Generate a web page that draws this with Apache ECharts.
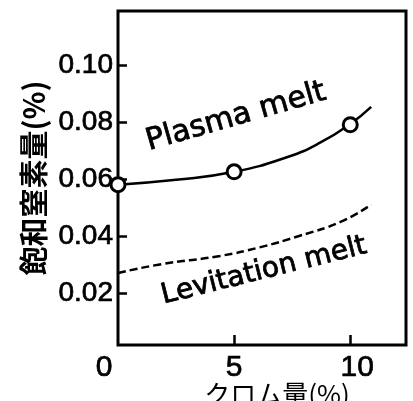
<!DOCTYPE html>
<html lang="ja">
<head>
<meta charset="utf-8" />
<script src="https://cdn.jsdelivr.net/npm/echarts@6/dist/echarts.min.js"></script>
<style>html,body{margin:0;padding:0;background:#fff}</style>
</head>
<body>
<div id="view1" style="width:413px;height:401px"></div>
<script>
    // 測定点 (○) と曲線 : クロム量(%) vs 飽和窒素量(%)
    var plasmaX = [0, 5, 10];
    var plasmaY = [0.058, 0.0625, 0.079];
    var plasmaCurveX = [0, 2.5, 5, 7.3, 8.7, 10, 10.9];
    var plasmaCurveY = [0.058, 0.0597, 0.0625, 0.0677, 0.0727, 0.0793, 0.0853];
    var levX = [0, 1.8, 4.4, 6.1, 7.8, 9.6, 10.9];
    var levY = [0.027, 0.030, 0.033, 0.036, 0.040, 0.045, 0.051];
    var xTicks = [5, 10];
    var xLabels = [0, 5, 10];
    var yTicks = [0.02, 0.04, 0.06, 0.08, 0.10];
    var seriesNames = ["Plasma melt", "Levitation melt"];

    function zip(a, b){
        return a.map(function(v, i){ return [v, b[i]]; });
    }

    window.onload = function(){
        var myChart = echarts.init(document.getElementById("view1"));
        // 文字を少し太くする（スキャン原図の感じ）
        var heavy = {textBorderColor: "#000", textBorderWidth: 0.7};
        var option = {
            animation: false,
            backgroundColor: "#fff",
            grid: {
                left: 118, top: 11, width: 288, height: 334,
                show: true, borderColor: "#000", borderWidth: 3,
                outerBoundsMode: "none"
            },
            xAxis: {
                type: "value", min: 0, max: 12.4,
                name: "クロム量(%)", nameLocation: "middle", nameGap: 36,
                nameMoveOverlap: false,
                nameTextStyle: {fontFamily: "Noto Sans CJK JP", fontSize: 26, color: "#000", padding: [0, 0, 0, 30]},
                axisLine: {show: false},
                axisTick: {show: true, inside: true, length: 10, customValues: xTicks,
                    lineStyle: {color: "#000", width: 2.5}},
                axisLabel: {
                    customValues: xLabels, margin: 8, color: "#000",
                    fontFamily: "Liberation Sans", fontSize: 30,
                    textBorderColor: heavy.textBorderColor, textBorderWidth: heavy.textBorderWidth,
                    formatter: function(v){
                        if(v === 0) return "{z|0}";
                        if(v === 10) return "{t|10}";
                        return String(v);
                    },
                    rich: {
                        z: {fontFamily: "Liberation Sans", fontSize: 30, color: "#000", padding: [0, 28, 0, 0]},
                        t: {fontFamily: "Liberation Sans", fontSize: 30, color: "#000", padding: [0, 0, 0, 14]}
                    }
                },
                splitLine: {show: false}
            },
            yAxis: {
                type: "value", min: 0.00175, max: 0.1189,
                name: "飽和窒素量(%)", nameLocation: "middle", nameGap: 70, nameRotate: 90,
                nameMoveOverlap: false,
                nameTextStyle: {fontFamily: "Noto Sans CJK JP", fontWeight: "bold", fontSize: 29, color: "#000"},
                axisLine: {show: false},
                axisTick: {show: true, inside: true, length: 9, customValues: yTicks,
                    lineStyle: {color: "#000", width: 2.5}},
                axisLabel: {
                    customValues: yTicks, margin: 5, color: "#000",
                    fontFamily: "Liberation Sans", fontSize: 28,
                    textBorderColor: heavy.textBorderColor, textBorderWidth: heavy.textBorderWidth,
                    formatter: function(v){ return v.toFixed(2); }
                },
                splitLine: {show: false}
            },
            graphic: [
                {type: "text", x: 236, y: 117, rotation: 16 * Math.PI / 180,
                    style: {text: seriesNames[0], fontFamily: "DejaVu Sans", fontSize: 30,
                        fill: "#000", stroke: "#000", lineWidth: 0.8,
                        align: "center", verticalAlign: "middle"}},
                {type: "text", x: 264, y: 271, rotation: 14 * Math.PI / 180,
                    style: {text: seriesNames[1], fontFamily: "DejaVu Sans", fontSize: 28,
                        fill: "#000", stroke: "#000", lineWidth: 0.8,
                        align: "center", verticalAlign: "middle"}}
            ],
            series: [
                {
                    name: seriesNames[0], type: "line", smooth: true, showSymbol: false,
                    data: zip(plasmaCurveX, plasmaCurveY),
                    lineStyle: {color: "#000", width: 2.5}, z: 2
                },
                {
                    name: seriesNames[0] + " 測定点", type: "scatter", symbol: "circle", symbolSize: 14,
                    data: zip(plasmaX, plasmaY),
                    itemStyle: {color: "#fff", borderColor: "#000", borderWidth: 3, opacity: 1}, z: 3
                },
                {
                    name: seriesNames[1], type: "line", smooth: true, showSymbol: false,
                    data: zip(levX, levY),
                    lineStyle: {color: "#000", width: 2.5, type: [8, 4]}, z: 2
                }
            ]
        };
        myChart.setOption(option);
    };
</script>
</body>
</html>
